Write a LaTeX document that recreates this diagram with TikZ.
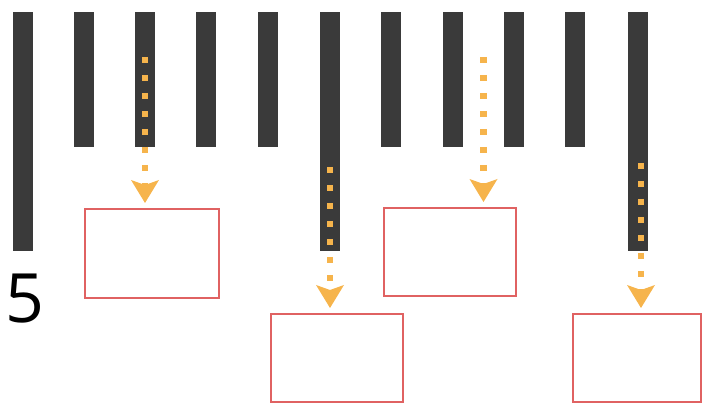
\documentclass[tikz,border=0pt]{standalone}
\usepackage{fontspec}
\setmainfont{Open Sans}
\usetikzlibrary{arrows.meta}
\definecolor{barcol}{RGB}{58,58,58}
\definecolor{flowcol}{RGB}{246,180,76}
\definecolor{boxcol}{RGB}{224,98,98}
\tikzset{
  barshape/.style={fill=barcol, draw=none},
  slot/.style={draw=boxcol, line width=2pt, fill=none, anchor=north west, inner sep=0pt},
  flow/.style={draw=flowcol, line width=6.5pt, dash pattern=on 6.5pt off 11.5pt,
    -{Stealth[length=23pt,width=28pt,inset=5pt,line width=0pt,fill=flowcol]}, shorten >=5pt},
}
\begin{document}
\begin{tikzpicture}[x=1pt,y=-1pt]
\useasboundingbox (0,0) rectangle (702,403);
% bars
\foreach \bx/\by in {13/251, 74/147, 135/147, 196/147, 258/147, 320/251, 381/147, 443/147, 504/147, 565/147, 628/251}{
  \fill[barshape] (\bx,12) rectangle (\bx+20,\by);
}
% boxes
\node[slot, minimum width=134pt, minimum height=89pt] (b1) at (84,208) {};
\node[slot, minimum width=132pt, minimum height=88pt] (b2) at (270,313) {};
\node[slot, minimum width=132pt, minimum height=88pt] (b3) at (383,207) {};
\node[slot, minimum width=128pt, minimum height=88pt] (b4) at (572,313) {};
% start points
\coordinate (s1) at (145,57);
\coordinate (s2) at (330,167);
\coordinate (s3) at (483.5,57);
\coordinate (s4) at (641,163);
% arrows
\draw[flow] (s1) -- (s1 |- b1.north);
\draw[flow] (s2) -- (s2 |- b2.north);
\draw[flow] (s3) -- (s3 |- b3.north);
\draw[flow] (s4) -- (s4 |- b4.north);
% label
\node[anchor=base west, inner sep=0pt, font=\fontsize{68}{68}\selectfont] (n5) at (5.5,323) {5};
\end{tikzpicture}
\end{document}
